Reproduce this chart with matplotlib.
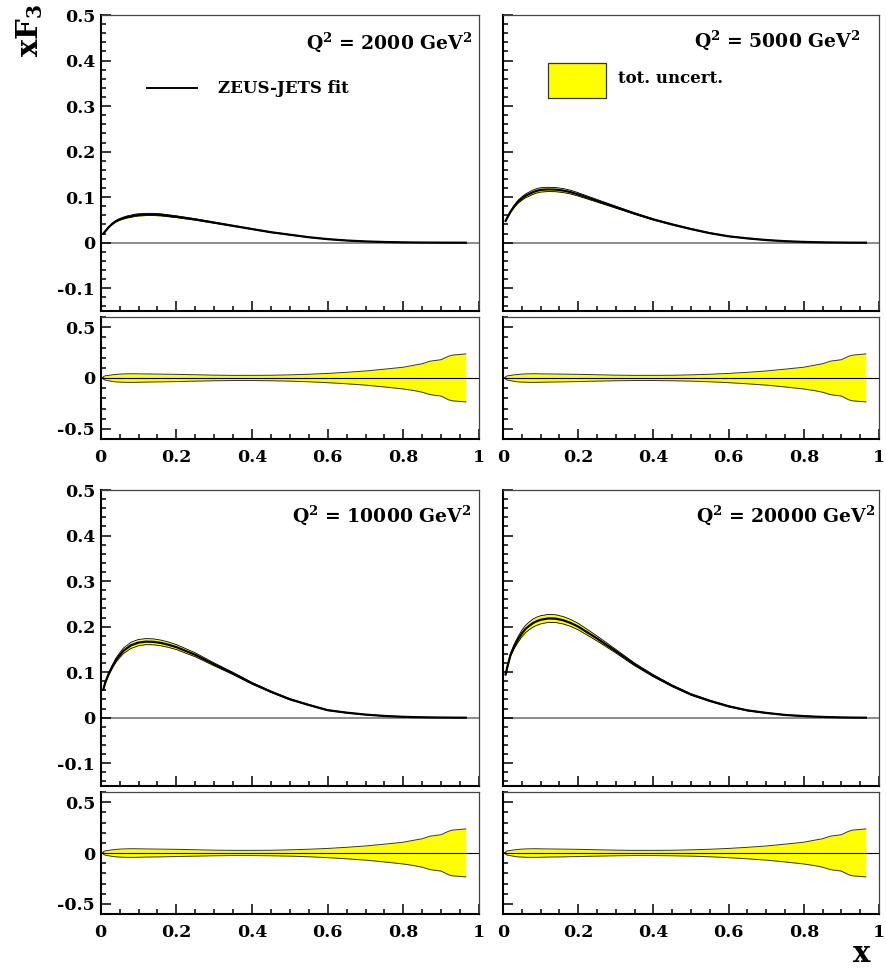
import numpy as np
import matplotlib
matplotlib.use("Agg")
from matplotlib import pyplot as plt
from matplotlib.ticker import MultipleLocator, FixedLocator
from matplotlib.patches import Rectangle

plt.rcParams['font.family'] = ['DejaVu Serif']
plt.rcParams['font.weight'] = 'bold'
plt.rcParams['mathtext.fontset'] = 'dejavuserif'

# x grid of the fit curves
xs = [0.007, 0.012, 0.02, 0.03, 0.04, 0.05, 0.06, 0.07, 0.08, 0.09, 0.1, 0.12,
      0.14, 0.16, 0.18, 0.2, 0.25, 0.3, 0.35, 0.4, 0.45, 0.5, 0.55, 0.6, 0.65,
      0.7, 0.75, 0.8, 0.83, 0.85, 0.87, 0.9, 0.92, 0.93, 0.965]

# central xF3 values of the ZEUS-JETS fit
xf3_2000 = [0.020, 0.025, 0.033, 0.041, 0.047, 0.051, 0.054, 0.0565, 0.058, 0.060,
            0.061, 0.062, 0.062, 0.061, 0.059, 0.057, 0.051, 0.044, 0.037, 0.030,
            0.023, 0.0175, 0.012, 0.0078, 0.0048, 0.0028, 0.0015, 0.0007, 0.0004,
            0.0003, 0.0002, 0.0001, 0.0, 0.0, 0.0]
xf3_5000 = [0.048, 0.056, 0.068, 0.080, 0.090, 0.097, 0.103, 0.107, 0.111, 0.114,
            0.116, 0.117, 0.1165, 0.1145, 0.111, 0.106, 0.092, 0.078, 0.064, 0.051,
            0.040, 0.030, 0.021, 0.014, 0.0095, 0.0058, 0.0033, 0.0017, 0.0011,
            0.0008, 0.0005, 0.0003, 0.0001, 0.0001, 0.0]
xf3_10000 = [0.062, 0.077, 0.094, 0.111, 0.126, 0.137, 0.147, 0.153, 0.159, 0.162,
             0.165, 0.167, 0.1665, 0.164, 0.160, 0.155, 0.138, 0.117, 0.097, 0.0755,
             0.057, 0.0405, 0.028, 0.0165, 0.011, 0.0068, 0.0038, 0.0019, 0.0012,
             0.0009, 0.0006, 0.0003, 0.0002, 0.0001, 0.0]
xf3_20000 = [0.095, 0.113, 0.138, 0.157, 0.172, 0.185, 0.195, 0.202, 0.208, 0.212,
             0.215, 0.218, 0.2175, 0.214, 0.208, 0.200, 0.174, 0.146, 0.117, 0.092,
             0.070, 0.051, 0.037, 0.025, 0.016, 0.0105, 0.006, 0.0035, 0.0023,
             0.0017, 0.0012, 0.0006, 0.0003, 0.0002, 0.0]

# relative total uncertainty (upper / lower)
rel_up = [0.012, 0.022, 0.025, 0.031, 0.035, 0.038, 0.040, 0.041, 0.042, 0.042,
          0.041, 0.040, 0.039, 0.038, 0.037, 0.036, 0.032, 0.028, 0.026, 0.026,
          0.027, 0.031, 0.037, 0.045, 0.056, 0.069, 0.087, 0.106, 0.127, 0.140,
          0.165, 0.180, 0.215, 0.225, 0.237]
rel_dn = [-0.012, -0.022, -0.026, -0.033, -0.038, -0.040, -0.042, -0.043, -0.043,
          -0.043, -0.042, -0.040, -0.039, -0.038, -0.036, -0.035, -0.031, -0.027,
          -0.025, -0.025, -0.027, -0.031, -0.037, -0.046, -0.057, -0.070, -0.088,
          -0.108, -0.125, -0.140, -0.163, -0.178, -0.215, -0.225, -0.235]

q2_labels = ['2000', '5000', '10000', '20000']
curves = [xf3_2000, xf3_5000, xf3_10000, xf3_20000]

W, H = 887, 969
fig = plt.figure(figsize=(W / 100, H / 100), dpi=100)

col_x = [(100.7, 378.3), (503, 376)]
row_y = [(15, 311, 317, 439), (490, 786, 792, 914)]
q2_pos = [(0.981, 0.909), (0.949, 0.916), (0.981, 0.916), (0.989, 0.916)]

TICKFONT = dict(family='DejaVu Serif', weight='bold', size=12.5)


def rect(x0, w, top, bot):
    return [x0 / W, 1 - bot / H, w / W, (bot - top) / H]


def style_axes(ax):
    for s in ['left', 'bottom']:
        ax.spines[s].set_linewidth(1.5)
        ax.spines[s].set_color('black')
    for s in ['top', 'right']:
        ax.spines[s].set_linewidth(0.9)
        ax.spines[s].set_color('#444444')
    ax.tick_params(which='both', direction='in', top=False, right=False,
                   width=1.1, color='black')
    ax.tick_params(which='major', length=7)
    ax.tick_params(which='minor', length=3.8)
    ax.tick_params(axis='y', pad=4)
    ax.tick_params(axis='x', pad=7)
    ax.set_xlim(0, 1)
    ax.xaxis.set_major_locator(MultipleLocator(0.2))
    ax.xaxis.set_minor_locator(MultipleLocator(0.05))


x = np.array(xs)
up = np.array(rel_up)
dn = np.array(rel_dn)

for i in range(4):
    r, c = divmod(i, 2)
    x0, w = col_x[c]
    mtop, mbot, rtop, rbot = row_y[r]
    cen = np.array(curves[i])

    ax = fig.add_axes(rect(x0, w, mtop, mbot))
    style_axes(ax)
    ax.set_ylim(-0.15, 0.5)
    ax.yaxis.set_major_locator(FixedLocator([-0.1, 0, 0.1, 0.2, 0.3, 0.4, 0.5]))
    ax.yaxis.set_minor_locator(MultipleLocator(0.02))
    ax.axhline(0, color='#777777', lw=1.2, zorder=1)
    hi = cen * (1 + up)
    lo = cen * (1 + dn)
    ax.fill_between(x, lo, hi, color='#ffff00', lw=0, zorder=2)
    ax.plot(x, hi, color='black', lw=0.6, zorder=3)
    ax.plot(x, lo, color='black', lw=0.6, zorder=3)
    ax.plot(x, cen, color='black', lw=1.6, zorder=4, solid_joinstyle='round')
    ax.set_xticklabels([])
    if c == 0:
        ax.set_yticks([-0.1, 0, 0.1, 0.2, 0.3, 0.4, 0.5])
        ax.set_yticklabels(['-0.1', '0', '0.1', '0.2', '0.3', '0.4', '0.5'], **TICKFONT)
    else:
        ax.set_yticklabels([])
    qx, qy = q2_pos[i]
    ax.text(qx, qy, r'Q$^{\mathbf{2}}$ = ' + q2_labels[i] + r' GeV$^{\mathbf{2}}$',
            transform=ax.transAxes, ha='right', va='center',
            fontsize=13.5, fontweight='bold')

    if i == 0:
        ax.plot([0.122, 0.255], [0.753, 0.753], color='black', lw=1.4,
                transform=ax.transAxes)
        ax.text(0.31, 0.753, 'ZEUS-JETS fit', transform=ax.transAxes,
                ha='left', va='center', fontsize=12, fontweight='bold')
    if i == 1:
        ax.add_patch(Rectangle((0.120, 0.720), 0.154, 0.118, transform=ax.transAxes,
                               facecolor='#ffff00', edgecolor='#333333', lw=0.9))
        ax.text(0.306, 0.785, 'tot. uncert.', transform=ax.transAxes,
                ha='left', va='center', fontsize=12, fontweight='bold')

    rx = fig.add_axes(rect(x0, w, rtop, rbot))
    style_axes(rx)
    rx.set_ylim(-0.6, 0.6)
    rx.yaxis.set_major_locator(FixedLocator([-0.5, 0, 0.5]))
    rx.yaxis.set_minor_locator(MultipleLocator(0.1))
    rx.fill_between(x, dn, up, color='#ffff00', lw=0, zorder=2)
    rx.plot(x, up, color='#333333', lw=0.7, zorder=3)
    rx.plot(x, dn, color='#333333', lw=0.7, zorder=3)
    rx.axhline(0, color='black', lw=0.8, zorder=4)
    rx.set_xticks([0, 0.2, 0.4, 0.6, 0.8, 1])
    rx.set_xticklabels(['0', '0.2', '0.4', '0.6', '0.8', '1'], **TICKFONT)
    if c == 0:
        rx.set_yticks([-0.5, 0, 0.5])
        rx.set_yticklabels(['-0.5', '0', '0.5'], **TICKFONT)
    else:
        rx.set_yticklabels([])

fig.text(30 / W, 1 - 30 / H, r'xF$_{\mathbf{3}}$', rotation=90, ha='center', va='center',
         fontsize=21, fontweight='bold')
fig.text(862 / W, 1 - 962 / H, 'x', ha='center', va='baseline',
         fontsize=21, fontweight='bold')

fig.savefig('out.png', dpi=100)
